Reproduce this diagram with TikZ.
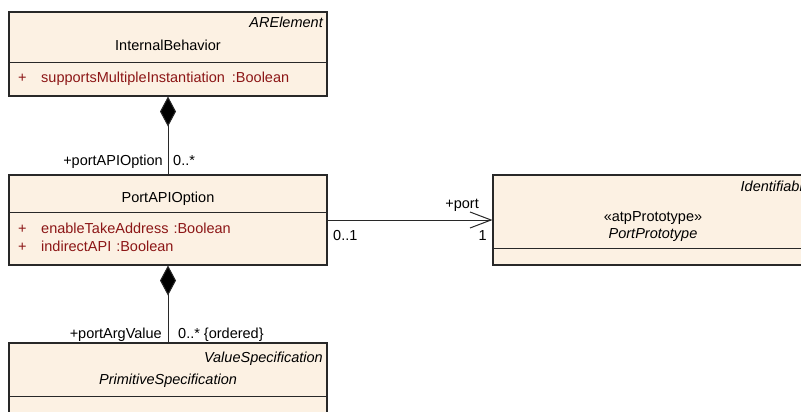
\documentclass[tikz,border=0pt]{standalone}
\usepackage{fontspec}
\setmainfont{Liberation Sans}
\usetikzlibrary{arrows.meta}
\definecolor{classfill}{RGB}{252,241,227}
\definecolor{attrred}{RGB}{140,22,22}
\definecolor{edgegray}{RGB}{40,40,40}
\begin{document}
\begin{tikzpicture}[x=1pt,y=-1pt,
  classbox/.style={draw=edgegray, fill=classfill, line width=1.1pt, inner sep=0pt},
  sepline/.style={draw=edgegray, line width=1.1pt},
  lbl/.style={inner sep=0pt, font=\fontsize{14.5}{17}\selectfont},
  attr/.style={lbl, text=attrred},
  conn/.style={draw=edgegray, line width=1pt},
  comp/.style={conn, {Diamond[length=30pt,width=16pt,fill=black]}-},
  nav/.style={conn, -{Straight Barb[length=21pt,width=16pt]}}
]
\useasboundingbox (0,0) rectangle (801,412);
\clip (0,0) rectangle (801,412);
\fill[white] (0,0) rectangle (801,412);

% class boxes
\node[classbox, minimum width=318pt, minimum height=84pt] (ib) at (168,54) {};
\draw[sepline] ([yshift=-51pt]ib.north west) -- ([yshift=-51pt]ib.north east);

\node[classbox, minimum width=318pt, minimum height=90pt] (pao) at (168,220) {};
\draw[sepline] ([yshift=-38pt]pao.north west) -- ([yshift=-38pt]pao.north east);

\node[classbox, minimum width=318pt, minimum height=75pt] (ps) at (168,380.5) {};
\draw[sepline] ([yshift=-54pt]ps.north west) -- ([yshift=-54pt]ps.north east);

\node[classbox, minimum width=320pt, minimum height=90pt] (pp) at (653,220) {};
\draw[sepline] ([yshift=-74pt]pp.north west) -- ([yshift=-74pt]pp.north east);

% InternalBehavior
\node[lbl, anchor=base east] (ibbase) at (323,28) {\itshape ARElement};
\node[lbl, anchor=base] (ibname) at (168,51) {InternalBehavior};
\node[attr, anchor=base west] (ibplus) at (18,83) {+};
\node[attr, anchor=base west] (ibattr) at (41,83) {supportsMultipleInstantiation\hspace{7pt}:Boolean};

% PortAPIOption
\node[lbl, anchor=base] (paoname) at (168,202) {PortAPIOption};
\node[attr, anchor=base west] (paoplusa) at (18,233) {+};
\node[attr, anchor=base west] (paoattra) at (41,233) {enableTakeAddress\hspace{5pt}:Boolean};
\node[attr, anchor=base west] (paoplusb) at (18,251) {+};
\node[attr, anchor=base west] (paoattrb) at (41,251) {indirectAPI\hspace{5pt}:Boolean};

% PrimitiveSpecification
\node[lbl, anchor=base east] (psbase) at (323,362) {\itshape ValueSpecification};
\node[lbl, anchor=base] (psname) at (168,384) {\itshape PrimitiveSpecification};

% PortPrototype
\node[lbl, anchor=base east] (ppbase) at (811,191) {\itshape Identifiable};
\node[lbl, anchor=base] (ppstereo) at (653,221) {«atpPrototype»};
\node[lbl, anchor=base] (ppname) at (653,238) {\itshape PortPrototype};

% associations
\draw[comp] (ib.south) -- (pao.north);
\draw[comp] (pao.south) -- (ps.north);
\draw[nav] (pao.east) -- (pp.west);

% association end labels
\node[lbl, anchor=base east] (roleopt) at (163,165) {+portAPIOption};
\node[lbl, anchor=base west] (multopt) at (173,165) {0..*};
\node[lbl, anchor=base east] (rolearg) at (162,338) {+portArgValue};
\node[lbl, anchor=base west] (multarg) at (178,338) {0..* \{ordered\}};
\node[lbl, anchor=base east] (roleport) at (479,208) {+port};
\node[lbl, anchor=base west] (multsrc) at (333,240) {0..1};
\node[lbl, anchor=base east] (multport) at (487,240) {1};
\end{tikzpicture}
\end{document}
